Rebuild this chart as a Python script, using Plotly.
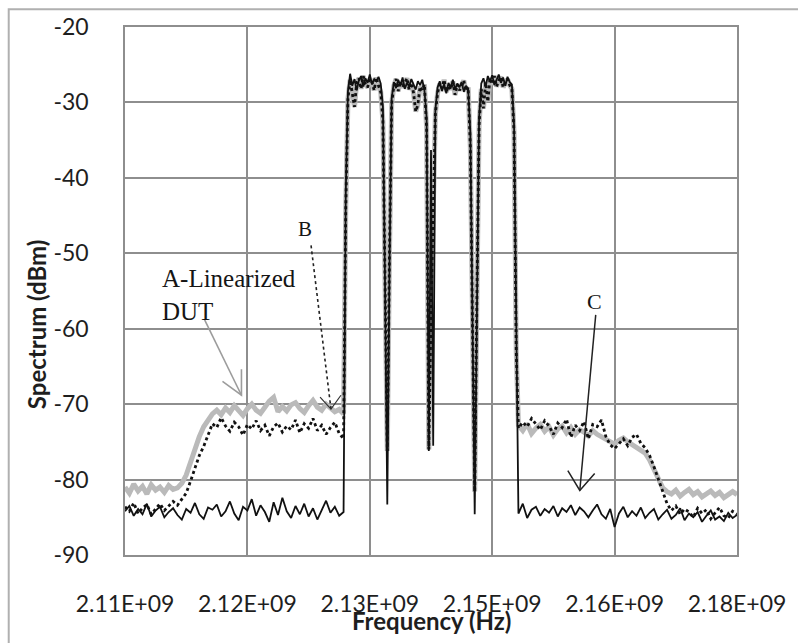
import numpy as np
import plotly.graph_objects as go

# ---------------- data ----------------
# frequency grid, MHz
freq_left_mhz = [2110.0, 2110.5, 2111.0, 2111.5, 2112.0, 2112.5, 2113.0, 2113.5, 2114.0, 2114.5,
                 2115.0, 2115.5, 2116.0, 2116.5, 2117.0, 2117.5, 2118.0, 2118.5, 2119.0, 2119.5,
                 2120.0, 2120.5, 2121.0, 2121.5, 2122.0, 2122.5, 2123.0, 2123.5, 2124.0, 2124.5,
                 2125.0, 2125.5, 2126.0, 2126.5, 2127.0, 2127.5, 2128.0, 2128.5, 2129.0, 2129.5,
                 2130.0, 2130.5, 2131.0, 2131.5, 2132.0, 2132.5, 2133.0, 2133.5, 2134.0, 2134.5,
                 2135.0]
freq_band_mhz = [2135.25, 2135.5, 2135.75, 2136.0, 2136.25, 2136.5, 2136.75, 2137.0, 2137.25, 2137.5,
                 2137.75, 2138.0, 2138.25, 2138.5, 2138.75, 2139.0, 2139.25, 2139.5, 2139.75, 2140.0,
                 2140.25, 2140.5, 2140.75, 2141.0, 2141.25, 2141.5, 2141.75, 2142.0, 2142.25, 2142.5,
                 2142.75, 2143.0, 2143.25, 2143.5, 2143.75, 2144.0, 2144.25, 2144.5, 2144.75, 2145.0,
                 2145.25, 2145.5, 2145.75, 2146.0, 2146.25, 2146.5, 2146.75, 2147.0, 2147.25, 2147.5,
                 2147.75, 2148.0, 2148.25, 2148.5, 2148.75, 2149.0, 2149.25, 2149.5, 2149.75, 2150.0,
                 2150.25, 2150.5, 2150.75, 2151.0, 2151.25, 2151.5, 2151.75, 2152.0, 2152.25, 2152.5,
                 2152.75, 2153.0, 2153.25, 2153.5, 2153.75, 2154.0, 2154.25, 2154.5, 2154.75]
freq_right_mhz = [2155.0, 2155.5, 2156.0, 2156.5, 2157.0, 2157.5, 2158.0, 2158.5, 2159.0, 2159.5,
                  2160.0, 2160.5, 2161.0, 2161.5, 2162.0, 2162.5, 2163.0, 2163.5, 2164.0, 2164.5,
                  2165.0, 2165.5, 2166.0, 2166.5, 2167.0, 2167.5, 2168.0, 2168.5, 2169.0, 2169.5,
                  2170.0, 2170.5, 2171.0, 2171.5, 2172.0, 2172.5, 2173.0, 2173.5, 2174.0, 2174.5,
                  2175.0, 2175.5, 2176.0, 2176.5, 2177.0, 2177.5, 2178.0, 2178.5, 2179.0, 2179.5,
                  2180.0]

# gray thick trace: out-of-band spectrum (dBm)
gray_left = [-81.0, -81.8, -80.6, -81.5, -80.9, -81.9, -80.7, -81.4, -81.0, -81.7,
             -80.8, -81.3, -81.1, -80.5, -79.4, -77.6, -75.9, -74.3, -73.0, -72.0,
             -71.3, -70.8, -71.4, -70.5, -71.1, -70.2, -70.9, -71.5, -70.6, -70.0,
             -70.8, -71.2, -70.4, -69.6, -69.1, -71.0, -70.3, -70.9, -70.1, -69.8,
             -70.6, -71.1, -70.2, -69.5, -70.4, -70.8, -70.0, -70.5, -71.0, -70.7,
             -71.3]
gray_right = [-72.8, -73.5, -72.6, -73.9, -73.2, -72.7, -73.6, -73.0, -74.1, -73.3,
              -72.9, -73.8, -73.1, -74.0, -73.4, -73.7, -74.2, -73.5, -74.0, -74.3,
              -74.6, -74.9, -75.3, -74.8, -74.5, -75.0, -75.4, -75.8, -76.0, -76.5,
              -77.4, -78.6, -80.0, -81.1, -81.6, -81.9, -81.4, -82.2, -81.7, -81.3,
              -82.0, -81.6, -82.3, -81.8, -81.5, -82.1, -81.7, -82.4, -81.9, -81.6,
              -82.0]

# black dotted trace (B)
dotted_left = [-83.6, -84.2, -83.1, -84.5, -83.8, -83.3, -84.6, -83.9, -83.2, -84.1,
               -83.5, -82.9, -83.4, -82.6, -81.8, -80.2, -78.4, -76.8, -75.6, -74.0,
               -72.6, -73.1, -71.8, -72.9, -73.6, -72.4, -73.0, -74.1, -72.7, -73.3,
               -72.2, -73.5, -72.8, -74.2, -73.0, -72.5, -73.7, -72.9, -73.4, -72.1,
               -73.8, -72.6, -73.2, -71.9, -73.5, -72.8, -74.0, -73.1, -72.4, -73.9,
               -74.6]
dotted_band = [-44.0, -29.5, -27.0, -28.9, -30.6, -27.4, -26.8, -28.2, -26.5, -27.6,
               -28.0, -26.9, -27.3, -28.4, -26.7, -27.8, -28.6, -32.5, -52.0, -76.2,
               -50.0, -30.2, -27.8, -26.9, -28.5, -27.2, -28.0, -27.5, -26.8, -28.3,
               -27.4, -28.7, -31.2, -30.3, -27.9, -28.4, -27.6, -33.5, -76.0, -58.0,
               -42.0, -31.5, -28.8, -27.5, -28.1, -27.0, -28.6, -27.8, -28.3, -27.2,
               -29.0, -27.6, -28.4, -27.9, -27.1, -28.5, -28.0, -36.0, -60.0, -81.6,
               -56.0, -33.0, -28.2, -30.8, -27.4, -29.9, -26.8, -27.6, -26.5, -27.9,
               -27.1, -26.6, -28.0, -27.3, -26.9, -27.7, -28.2, -34.0, -63.0]
dotted_right = [-73.2, -72.4, -73.0, -71.9, -72.6, -73.4, -72.2, -72.9, -74.0, -72.5,
                -73.1, -72.0, -74.4, -72.8, -73.5, -72.3, -74.6, -72.7, -73.0, -72.1,
                -74.3, -75.4, -75.9, -75.2, -74.6, -75.5, -74.4, -74.0, -75.2, -75.8,
                -76.8, -78.3, -80.0, -81.8, -83.2, -84.1, -83.5, -84.6, -83.9, -84.3,
                -85.0, -83.8, -84.5, -84.0, -85.2, -84.4, -83.7, -84.8, -85.1, -84.2,
                -84.6]

# black solid trace (C)
solid_left = [-84.2, -83.5, -84.8, -83.9, -84.6, -83.2, -84.9, -84.1, -83.6, -85.0,
              -84.3, -83.8, -84.7, -85.3, -83.9, -84.4, -83.1, -84.6, -85.2, -83.7,
              -84.0, -83.3, -84.9, -84.2, -82.9, -84.5, -85.4, -83.6, -84.1, -82.6,
              -84.8, -83.4, -84.3, -85.6, -83.0, -84.7, -82.4, -84.2, -85.1, -83.5,
              -84.6, -83.2, -84.9, -83.8, -85.3, -84.0, -82.8, -84.4, -83.6, -84.8,
              -84.3]
solid_band = [-42.0, -28.5, -26.2, -27.8, -26.9, -28.4, -27.1, -26.5, -27.9, -26.8,
              -27.4, -26.3, -27.6, -26.9, -27.2, -26.6, -27.5, -30.5, -55.0, -83.3,
              -52.0, -29.5, -27.3, -28.1, -27.0, -27.8, -26.7, -28.2, -27.4, -27.9,
              -26.9, -27.6, -28.3, -27.2, -27.7, -27.0, -28.4, -32.0, -76.2, -36.3,
              -75.5, -31.0, -28.0, -27.2, -28.5, -27.6, -28.8, -27.4, -28.1, -27.0,
              -28.3, -27.5, -28.0, -27.3, -28.6, -27.8, -28.2, -34.0, -62.0, -84.6,
              -58.0, -32.0, -27.5, -26.8, -27.9, -26.5, -27.2, -26.4, -27.7, -26.9,
              -26.3, -27.4, -26.7, -27.8, -26.6, -27.3, -27.6, -33.0, -62.0]
solid_right = [-84.5, -83.2, -85.1, -84.0, -83.6, -84.8, -83.9, -84.4, -83.5, -84.9,
               -83.8, -84.3, -83.4, -84.7, -83.7, -84.2, -85.0, -84.1, -83.3, -84.6,
               -85.2, -83.9, -86.3, -84.5, -83.6, -85.0, -84.2, -84.8, -83.7, -85.1,
               -84.4, -83.9, -85.3, -84.6, -84.0, -85.2, -84.7, -83.8, -85.4, -84.5,
               -85.0, -84.3, -85.6, -84.8, -84.1, -85.3, -84.9, -85.5, -84.4, -85.1,
               -84.7]

# axis ticks
x_tick_mhz = [2110, 2124, 2138, 2152, 2166, 2180]
x_tick_text = ["2.11E+09", "2.12E+09", "2.13E+09", "2.15E+09", "2.16E+09", "2.18E+09"]
y_tick_vals = [-90, -80, -70, -60, -50, -40, -30, -20]
y_tick_text = ["-90", "-80", "-70", "-60", "-50", "-40", "-30", "-20"]

# ---------------- build ----------------
freq_hz = np.array(freq_left_mhz + freq_band_mhz + freq_right_mhz) * 1e6
gray_db = gray_left + dotted_band + gray_right
dotted_db = dotted_left + dotted_band + dotted_right
solid_db = solid_left + solid_band + solid_right

fig = go.Figure()
fig.add_trace(go.Scatter(x=freq_hz, y=gray_db, mode="lines",
                         line=dict(color="#bababa", width=5), showlegend=False))
fig.add_trace(go.Scatter(x=freq_hz, y=dotted_db, mode="lines",
                         line=dict(color="#111111", width=2.8, dash="dot"), showlegend=False))
fig.add_trace(go.Scatter(x=freq_hz, y=solid_db, mode="lines",
                         line=dict(color="#111111", width=1.8), showlegend=False))

M = 1e6
sans = "Lato, 'Open Sans', sans-serif"
tick_font = dict(family=sans, size=23, color="#1e1e1e")
grid = "#8e8e8e"

fig.update_xaxes(range=[2110 * M, 2180 * M], tickvals=[v * M for v in x_tick_mhz],
                 ticktext=x_tick_text, tickfont=tick_font, showgrid=True,
                 gridcolor=grid, gridwidth=1.5, showline=True, linecolor=grid,
                 linewidth=1.5, mirror=True, zeroline=False, ticks="",
                 ticklabelstandoff=28)
fig.update_yaxes(range=[-90, -20], tickvals=y_tick_vals, ticktext=y_tick_text,
                 tickfont=tick_font, showgrid=True, gridcolor=grid, gridwidth=1.5,
                 showline=True, linecolor=grid, linewidth=1.5, mirror=True,
                 zeroline=False, ticks="", ticklabelstandoff=30)

serif = "'Liberation Serif', 'Times New Roman', serif"
shapes = [
    # outer chart frame
    dict(type="rect", xref="paper", yref="paper", x0=-0.19, x1=1.2, y0=-0.3,
         y1=1.0338, line=dict(color="#b0b0b0", width=2), layer="below"),
    # A arrow (gray)
    dict(type="path", xref="x", yref="y",
         path=f"M {2119.11*M},-58.82 L {2123.32*M},-68.82",
         line=dict(color="#9c9c9c", width=1.6)),
    dict(type="path", xref="x", yref="y",
         path=f"M {2121.15*M},-66.97 L {2123.32*M},-68.82 L {2123.32*M},-65.39",
         line=dict(color="#9c9c9c", width=1.6)),
    # B arrow (dotted)
    dict(type="path", xref="x", yref="y",
         path=f"M {2131.28*M},-48.95 L {2133.56*M},-70.66",
         line=dict(color="#222222", width=1.6, dash="dot")),
    dict(type="path", xref="x", yref="y",
         path=f"M {2132.31*M},-69.08 L {2133.56*M},-70.66 L {2134.70*M},-68.82",
         line=dict(color="#333333", width=1.2)),
    # C arrow
    dict(type="path", xref="x", yref="y",
         path=f"M {2163.84*M},-58.16 L {2162.02*M},-81.45",
         line=dict(color="#222222", width=1.5)),
    dict(type="path", xref="x", yref="y",
         path=f"M {2160.65*M},-78.82 L {2162.02*M},-81.45 L {2163.72*M},-79.21",
         line=dict(color="#222222", width=1.5)),
]

annotations = [
    dict(x=2114.0 * M, y=-51.3, xref="x", yref="y", text="A-Linearized<br>DUT",
         showarrow=False, xanchor="left", yanchor="top", align="left",
         font=dict(family=serif, size=25, color="#151515")),
    dict(x=2130.6 * M, y=-46.84, xref="x", yref="y", text="B", showarrow=False,
         xanchor="center", yanchor="middle",
         font=dict(family=serif, size=21, color="#151515")),
    dict(x=2163.72 * M, y=-56.45, xref="x", yref="y", text="C", showarrow=False,
         xanchor="center", yanchor="middle",
         font=dict(family=serif, size=22, color="#151515")),
    # axis titles
    dict(x=-0.1447, y=0.438, xref="paper", yref="paper", text="<b>Spectrum (dBm)</b>",
         textangle=-90, showarrow=False, xanchor="center", yanchor="middle",
         font=dict(family=sans, size=24, color="#1e1e1e")),
    dict(x=0.5, y=-0.124, xref="paper", yref="paper", text="<b>Frequency (Hz)</b>",
         showarrow=False, xanchor="center", yanchor="middle",
         font=dict(family=sans, size=24, color="#1e1e1e")),
]

fig.update_layout(width=798, height=643, margin=dict(l=125, r=58, t=23, b=88),
                  paper_bgcolor="white", plot_bgcolor="white",
                  shapes=shapes, annotations=annotations, showlegend=False)

fig.write_html("out.html", config={"displayModeBar": False},
               post_script="document.body.style.margin='0px';document.body.style.padding='0px';")
